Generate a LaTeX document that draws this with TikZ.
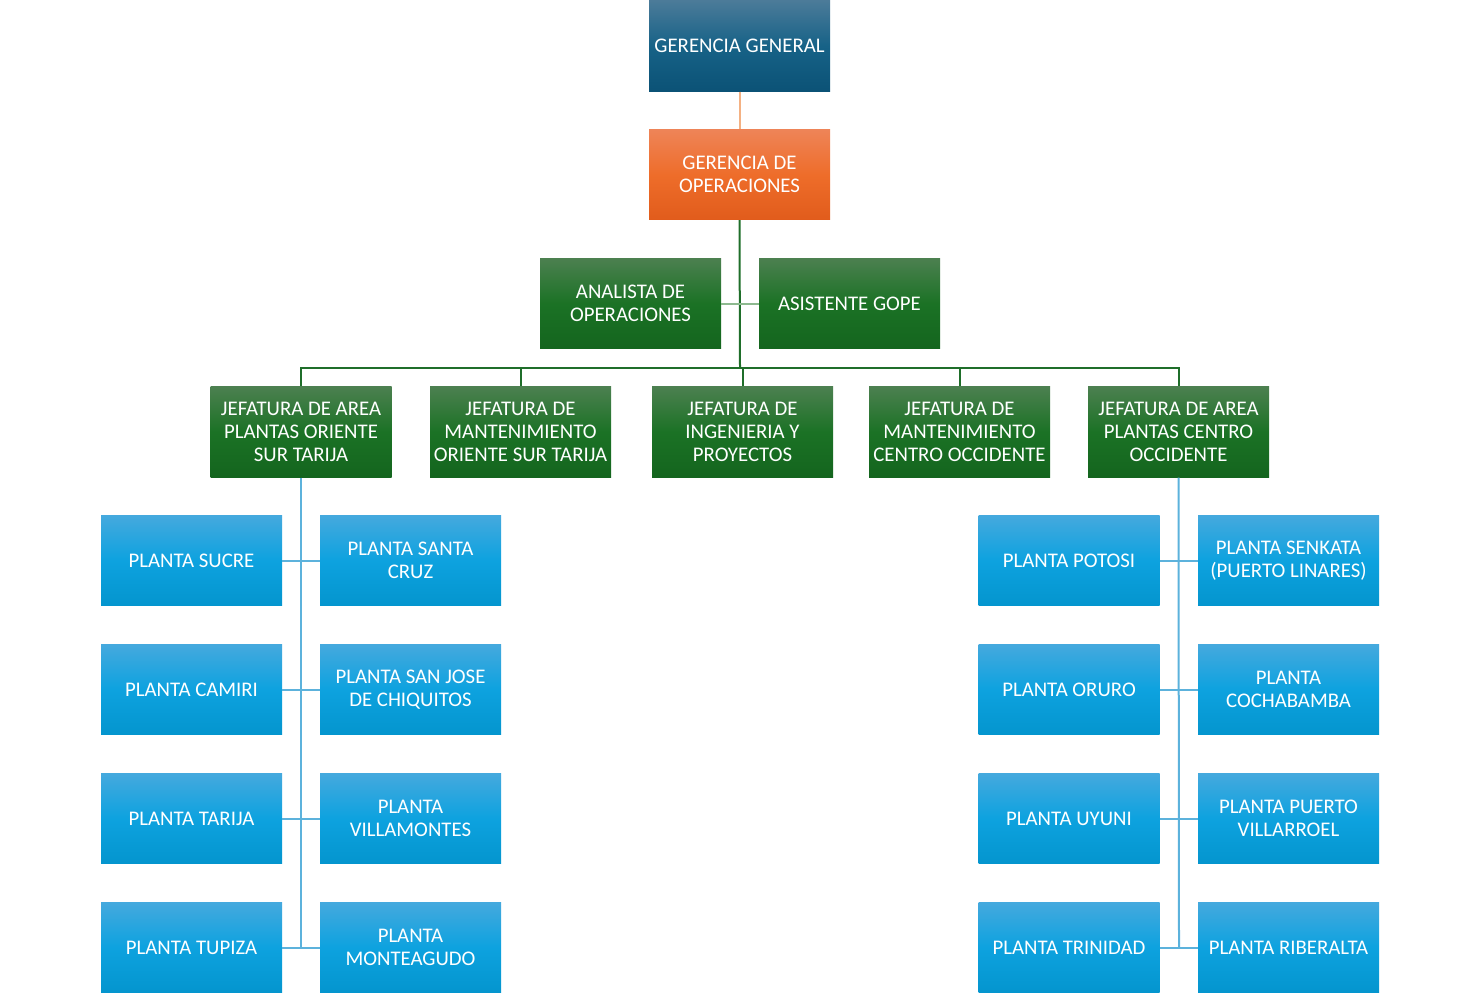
\documentclass[tikz,border=0pt]{standalone}
\usepackage{fontspec}
\setmainfont{Carlito}
\begin{document}
\begin{tikzpicture}[x=0.75pt,y=-0.75pt,
  box/.style={minimum width=181*0.75pt, minimum height=90.5*0.75pt, inner sep=0pt, text=white, align=center,
    font=\fontsize{15.6}{17.3}\selectfont},
  gen/.style={box, top color=gtop, bottom color=gbot, middle color=gmid},
  ops/.style={box, top color=otop, bottom color=obot, middle color=omid},
  grn/.style={box, top color=ntop, bottom color=nbot, middle color=nmid},
  pl/.style={box, top color=ptop, bottom color=pbot, middle color=pmid},
  gline/.style={draw=lgreen, line width=1.5pt},
  bline/.style={draw=lblue, line width=1.5pt}]
\definecolor{gtop}{HTML}{4B7B99}
\definecolor{gmid}{HTML}{176287}
\definecolor{gbot}{HTML}{0B5276}
\definecolor{otop}{HTML}{EE8458}
\definecolor{omid}{HTML}{EE6D2A}
\definecolor{obot}{HTML}{E15C1C}
\definecolor{ntop}{HTML}{4C8050}
\definecolor{nmid}{HTML}{1B7225}
\definecolor{nbot}{HTML}{14651E}
\definecolor{ptop}{HTML}{45A9DE}
\definecolor{pmid}{HTML}{0DA2DF}
\definecolor{pbot}{HTML}{0495CE}
\definecolor{lgreen}{HTML}{1F6E2A}
\definecolor{lgreenl}{HTML}{8DB98F}
\definecolor{lpeach}{HTML}{F4B183}
\definecolor{lblue}{HTML}{5CB2DC}
\useasboundingbox (0,0) rectangle (1480,993);
% nodes
\node[gen] (gg) at (739.5,46) {GERENCIA GENERAL};
\node[ops] (go) at (739.5,174.5) {GERENCIA DE\\OPERACIONES};
\node[grn] (an) at (630.5,303.5) {ANALISTA DE\\OPERACIONES};
\node[grn] (as) at (849.5,303.5) {ASISTENTE GOPE};
\node[grn] (j1) at (301,432) {JEFATURA DE AREA\\PLANTAS ORIENTE\\SUR TARIJA};
\node[grn] (j2) at (520.5,432) {JEFATURA DE\\MANTENIMIENTO\\ORIENTE SUR TARIJA};
\node[grn] (j3) at (742.5,432) {JEFATURA DE\\INGENIERIA Y\\PROYECTOS};
\node[grn] (j4) at (959.5,432) {JEFATURA DE\\MANTENIMIENTO\\CENTRO OCCIDENTE};
\node[grn] (j5) at (1178.5,432) {JEFATURA DE AREA\\PLANTAS CENTRO\\OCCIDENTE};
% left plants
\node[pl] (l1a) at (191.5,560.5) {PLANTA SUCRE};
\node[pl] (l1b) at (410.5,560.5) {PLANTA SANTA\\CRUZ};
\node[pl] (l2a) at (191.5,689.5) {PLANTA CAMIRI};
\node[pl] (l2b) at (410.5,689.5) {PLANTA SAN JOSE\\DE CHIQUITOS};
\node[pl] (l3a) at (191.5,818.5) {PLANTA TARIJA};
\node[pl] (l3b) at (410.5,818.5) {PLANTA\\VILLAMONTES};
\node[pl] (l4a) at (191.5,947.5) {PLANTA TUPIZA};
\node[pl] (l4b) at (410.5,947.5) {PLANTA\\MONTEAGUDO};
% right plants
\node[pl] (r1a) at (1069,560.5) {PLANTA POTOSI};
\node[pl] (r1b) at (1288.5,560.5) {PLANTA SENKATA\\(PUERTO LINARES)};
\node[pl] (r2a) at (1069,689.5) {PLANTA ORURO};
\node[pl] (r2b) at (1288.5,689.5) {PLANTA\\COCHABAMBA};
\node[pl] (r3a) at (1069,818.5) {PLANTA UYUNI};
\node[pl] (r3b) at (1288.5,818.5) {PLANTA PUERTO\\VILLARROEL};
\node[pl] (r4a) at (1069,947.5) {PLANTA TRINIDAD};
\node[pl] (r4b) at (1288.5,947.5) {PLANTA RIBERALTA};
% connectors
\coordinate (bus) at (740,368);
\draw[draw=lpeach, line width=1.5pt] (gg.south) -- (go.north);
\draw[gline] (go.south) -- (bus);
\draw[draw=lgreenl, line width=1.5pt] (an.east) -- (as.west);
\draw[gline] (j1.north) |- (bus) -| (j5.north);
\draw[gline] (j2.north) -- (j2.north |- bus);
\draw[gline] (j3.north) -- (j3.north |- bus);
\draw[gline] (j4.north) -- (j4.north |- bus);
\coordinate (lb) at (301,947.5);
\coordinate (rb) at (1179,947.5);
\draw[bline] (j1.south) -- (lb);
\draw[bline] (j5.south) -- (rb);
\foreach \a/\b in {l1a/l1b,l2a/l2b,l3a/l3b,l4a/l4b,r1a/r1b,r2a/r2b,r3a/r3b,r4a/r4b}
  \draw[bline] (\a.east) -- (\b.west);
\end{tikzpicture}
\end{document}
